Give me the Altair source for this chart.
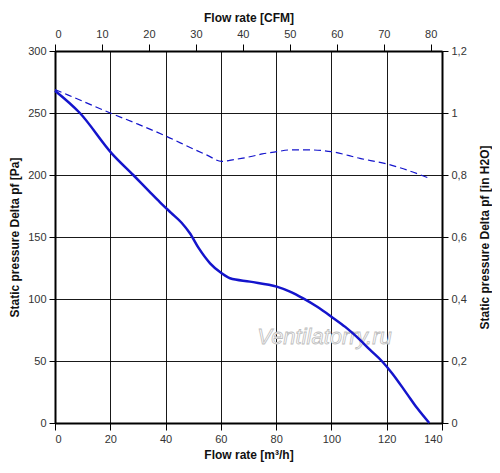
import altair as alt
import pandas as pd

# Solid curve (flow m3/h, static pressure Pa)
solid_q = [0, 9, 20.5, 28.3, 34, 38, 42, 45.8, 48.8, 52, 56.1, 60.3, 63.3, 70.5, 80.2, 85, 89.8, 95, 100, 105, 109.1, 114, 118.2, 122, 127.2, 131, 135.4]
solid_p = [268, 250, 217.5, 200, 187, 178, 169.5, 161.5, 153, 141, 128.8, 120.7, 116.7, 114, 110, 106, 100.5, 93.5, 85.7, 77.5, 69.6, 58.9, 50, 40, 23.9, 12, 0]

# Dashed curve
dash_q = [0, 10, 20, 30, 40, 50, 55, 60.3, 65, 70.5, 75, 80.2, 85, 92.3, 100, 110.3, 120, 130.8, 135.4]
dash_p = [269, 259.5, 250, 241, 231.5, 221, 216, 211, 212.5, 214.7, 217, 218.8, 220.2, 220.2, 218.8, 213.4, 208.9, 201.3, 197.3]

x_ticks = [0, 20, 40, 60, 80, 100, 120, 140]
y_ticks = [0, 50, 100, 150, 200, 250, 300]
cfm_ticks = [0, 10, 20, 30, 40, 50, 60, 70, 80]
inh2o_ticks = [0, 0.2, 0.4, 0.6, 0.8, 1.0, 1.2]

wm_text = ["Ventilatorry.ru"]
wm_x = [97.5]
wm_y = [69]

solid_df = pd.DataFrame({"q": solid_q, "p": solid_p})
dash_df = pd.DataFrame({"q": dash_q, "p": dash_p})
wm_df = pd.DataFrame({"q": wm_x, "p": wm_y, "t": wm_text})
axes_df = pd.DataFrame({"cfm": [0, 140 / 1.699], "inh2o": [0, 1.2]})

FONT = "Liberation Sans"
BLUE = "#1414cc"

xs = alt.Scale(domain=[0, 140], nice=False, zero=False)
ys = alt.Scale(domain=[0, 300], nice=False, zero=False)

common = dict(
    domainColor="#000", domainWidth=2, tickColor="#000", tickWidth=1,
    labelFont=FONT, labelFontSize=11, labelColor="#333",
    titleFont=FONT, titleFontSize=12, titleFontWeight="bold", titleColor="#111",
)

x_enc = alt.X("q:Q", scale=xs, axis=alt.Axis(
    values=x_ticks, title="Flow rate [m³/h]", orient="bottom",
    grid=True, gridColor="#000", gridOpacity=0.9, gridWidth=1,
    tickSize=7, labelPadding=3, titlePadding=5, **common))
y_enc = alt.Y("p:Q", scale=ys, axis=alt.Axis(
    values=y_ticks, title="Static pressure Delta pf [Pa]", orient="left",
    grid=True, gridColor="#000", gridOpacity=0.9, gridWidth=1,
    tickSize=6, labelPadding=3, titlePadding=6, **common))

wm = alt.Chart(wm_df).mark_text(
    font=FONT, fontSize=22, fontStyle="italic", fill="white", stroke="#bdbdbd", strokeWidth=0.8
).encode(x=alt.X("q:Q", scale=xs), y=alt.Y("p:Q", scale=ys), text="t:N")

solid = alt.Chart(solid_df).mark_line(color=BLUE, strokeWidth=2.5, interpolate="monotone").encode(x=x_enc, y=y_enc)
dashed = alt.Chart(dash_df).mark_line(color=BLUE, strokeWidth=1.2, strokeDash=[7, 4], interpolate="monotone").encode(
    x=alt.X("q:Q", scale=xs), y=alt.Y("p:Q", scale=ys))

main = alt.layer(wm, solid, dashed)

axes = alt.Chart(axes_df).mark_point(opacity=0).encode(
    x=alt.X("cfm:Q", scale=alt.Scale(domain=[0, 140 / 1.699], nice=False, zero=False), axis=alt.Axis(
        values=cfm_ticks, title="Flow rate [CFM]", orient="top", grid=False,
        tickSize=7, labelPadding=5, titlePadding=4, **common)),
    y=alt.Y("inh2o:Q", scale=alt.Scale(domain=[0, 1.2], nice=False, zero=False), axis=alt.Axis(
        values=inh2o_ticks, title="Static pressure Delta pf [in H2O]", orient="right", grid=False,
        labelExpr="replace(format(datum.value, '.1~f'), '.', ',')",
        tickSize=6, labelPadding=3, titlePadding=13, titleAngle=270, titleBaseline="top", **common)),
)

chart = alt.layer(main, axes).resolve_scale(x="independent", y="independent").properties(
    width=387, height=372,
    autosize=alt.AutoSizeParams(type="none"),
    padding={"left": 47, "top": 43, "right": 50, "bottom": 42},
    background="white",
).configure_view(stroke=None)

chart.save("out.html", embed_options={"renderer": "svg", "actions": False})
